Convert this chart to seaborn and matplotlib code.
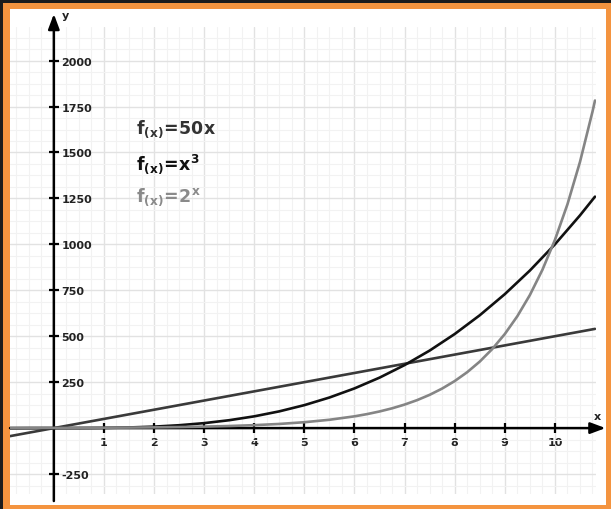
import matplotlib.pyplot as plt
import matplotlib.patches as patches
from matplotlib.ticker import MultipleLocator
import seaborn as sns

# curves, values
x_lin = [-0.875, 10.8]
y_lin = [-43.75, 540.0]

x_cube = [-0.875, -0.5, 0, 0.5, 1, 1.5, 2, 2.5, 3, 3.5, 4, 4.5, 5, 5.5,
          6, 6.5, 7, 7.5, 8, 8.5, 9, 9.5, 10, 10.5, 10.8]
y_cube = [-0.67, -0.13, 0, 0.13, 1, 3.4, 8, 15.6, 27, 42.9, 64, 91.1, 125, 166.4,
          216, 274.6, 343, 421.9, 512, 614.1, 729, 857.4, 1000, 1157.6, 1259.7]

x_exp = [-0.875, -0.5, 0, 0.5, 1, 1.5, 2, 2.5, 3, 3.5, 4, 4.5, 5, 5.5, 6,
         6.25, 6.5, 6.75, 7, 7.25, 7.5, 7.75, 8, 8.25, 8.5, 8.75, 9,
         9.25, 9.5, 9.75, 10, 10.25, 10.5, 10.75, 10.8]
y_exp = [0.55, 0.71, 1, 1.41, 2, 2.83, 4, 5.66, 8, 11.3, 16, 22.6, 32, 45.3, 64,
         76.1, 90.5, 107.6, 128, 152.2, 181.0, 215.3, 256, 304.4, 362.0, 430.5, 512,
         608.9, 724.1, 861.1, 1024, 1217.8, 1448.2, 1722.2, 1782.9]

x_ticks = [1, 2, 3, 4, 5, 6, 7, 8, 9, 10]
y_ticks = [-250, 250, 500, 750, 1000, 1250, 1500, 1750, 2000]

labels = [r'$\mathbf{f_{(x)}\!=\!50x}$', r'$\mathbf{f_{(x)}\!=\!x^{3}}$', r'$\mathbf{f_{(x)}\!=\!2^{x}}$']
label_y = [1606, 1411, 1237]
colors = ['#333333', '#111111', '#8a8a8a']

sns.set_style('white')
plt.rcParams['font.family'] = ['DejaVu Sans']
plt.rcParams['mathtext.fontset'] = 'dejavusans'

fig = plt.figure(figsize=(6.11, 5.10), dpi=100, facecolor='#1c1c1c')
W, H = 611, 510
# orange frame and white sheet
fig.patches.append(patches.Rectangle((3 / W, 0), 608 / W, 506 / H, transform=fig.transFigure,
                                     facecolor='#f4943f', edgecolor='none', zorder=-3))
fig.patches.append(patches.Rectangle((10 / W, 4 / H), 596 / W, 496 / H, transform=fig.transFigure,
                                     facecolor='white', edgecolor='none', zorder=-2))

ax = fig.add_axes([10 / W, 15 / H, 586 / W, 467 / H])
ax.set_zorder(1)
ax.set_facecolor('white')
ax.set_xlim(-0.875, 10.82)
ax.set_ylim(-358.7, 2183)

for s in ['top', 'left']:
    ax.spines[s].set_visible(False)
ax.spines['right'].set_position(('data', 0))
ax.spines['bottom'].set_position(('data', 0))
ax.spines['right'].set_color('none')
ax.spines['bottom'].set_color('none')
ax.yaxis.set_ticks_position('right')
ax.xaxis.set_ticks_position('bottom')

ax.set_xticks(x_ticks)
ax.set_yticks(y_ticks)
ax.set_xticklabels([str(t) for t in x_ticks])
ax.set_yticklabels([str(t) for t in y_ticks])
ax.xaxis.set_minor_locator(MultipleLocator(0.25))
ax.yaxis.set_minor_locator(MultipleLocator(62.5))
ax.tick_params(which='major', direction='inout', length=7, width=1.6, color='black',
               labelsize=8, labelcolor='#222222', pad=2)
ax.tick_params(axis='x', which='major', length=6.5, pad=3)
ax.tick_params(which='minor', length=0, width=0, color='none')
for lab in ax.get_xticklabels() + ax.get_yticklabels():
    lab.set_fontweight('bold')

ax.grid(which='major', color='#e2e2e2', lw=1.0)
ax.grid(which='minor', color='#f2f2f2', lw=0.8)
ax.set_axisbelow(True)

# axes with arrows
arrow = dict(arrowstyle='-|>,head_length=0.75,head_width=0.28', color='black', lw=1.8,
             shrinkA=0, shrinkB=0, mutation_scale=12)
ax.annotate('', xy=(0, 2254), xytext=(0, -397), arrowprops=arrow,
            annotation_clip=False, zorder=2)
ax.annotate('', xy=(11.01, 0), xytext=(-0.875, 0), arrowprops=arrow,
            annotation_clip=False, zorder=2)
ax.text(0.24, 2249, 'y', fontsize=8, fontweight='bold', color='#222222',
        ha='center', va='center')
ax.text(10.85, 66, 'x', fontsize=8, fontweight='bold', color='#222222',
        ha='center', va='center')

sns.lineplot(x=x_lin, y=y_lin, ax=ax, color='#3a3a3a', lw=1.9, zorder=3)
sns.lineplot(x=x_cube, y=y_cube, ax=ax, color='#111111', lw=1.9, zorder=3)
sns.lineplot(x=x_exp, y=y_exp, ax=ax, color='#858585', lw=1.9, zorder=3)

for lab, ly, c in zip(labels, label_y, colors):
    ax.text(1.638, ly, lab, fontsize=12.5, color=c, ha='left', va='baseline')

ax.set_xlabel('')
ax.set_ylabel('')
fig.savefig('out.png', dpi=100, facecolor=fig.get_facecolor())
